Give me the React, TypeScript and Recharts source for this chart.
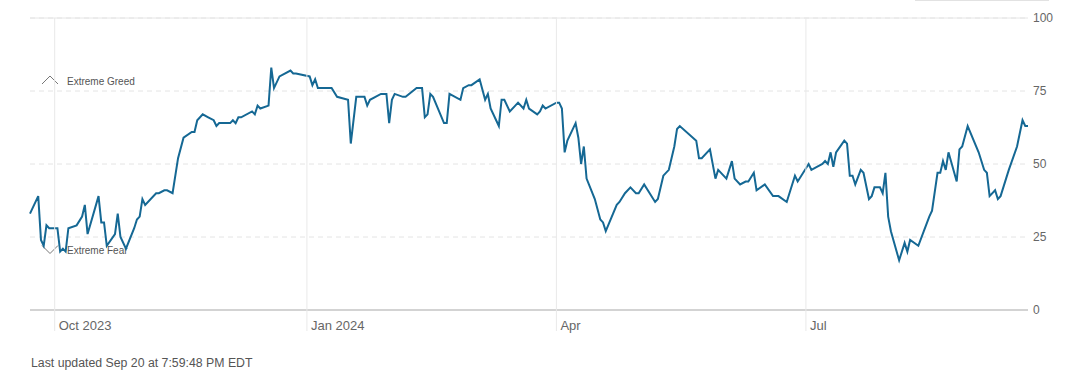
import React from 'react';
import { LineChart, Line, XAxis, YAxis, CartesianGrid, ReferenceLine } from 'recharts';

// Fear & Greed index (one point per visible vertex)
const dates = [
  '2023-09-22', '2023-09-25', '2023-09-26', '2023-09-27', '2023-09-28', '2023-09-29',
  '2023-10-02', '2023-10-03', '2023-10-04', '2023-10-05', '2023-10-06', '2023-10-09', '2023-10-11',
  '2023-10-12', '2023-10-13', '2023-10-17', '2023-10-18', '2023-10-19', '2023-10-20', '2023-10-23',
  '2023-10-24', '2023-10-25', '2023-10-27', '2023-10-30', '2023-10-31',
  '2023-11-01', '2023-11-02', '2023-11-03', '2023-11-07', '2023-11-08', '2023-11-10', '2023-11-11',
  '2023-11-13', '2023-11-15', '2023-11-17', '2023-11-20', '2023-11-21', '2023-11-22', '2023-11-24',
  '2023-11-26', '2023-11-28', '2023-11-29', '2023-11-30',
  '2023-12-02', '2023-12-04', '2023-12-05', '2023-12-06', '2023-12-07', '2023-12-08', '2023-12-12',
  '2023-12-13', '2023-12-14', '2023-12-15', '2023-12-18', '2023-12-19', '2023-12-20', '2023-12-22',
  '2023-12-26', '2023-12-27', '2023-12-28',
  '2024-01-02', '2024-01-03', '2024-01-04', '2024-01-05', '2024-01-08', '2024-01-09', '2024-01-10',
  '2024-01-12', '2024-01-16', '2024-01-17', '2024-01-19', '2024-01-22', '2024-01-23', '2024-01-24',
  '2024-01-26', '2024-01-28', '2024-01-30', '2024-01-31',
  '2024-02-01', '2024-02-02', '2024-02-05', '2024-02-06', '2024-02-10', '2024-02-12', '2024-02-13',
  '2024-02-14', '2024-02-15', '2024-02-16', '2024-02-20', '2024-02-21', '2024-02-22', '2024-02-26',
  '2024-02-27', '2024-02-29',
  '2024-03-01', '2024-03-04', '2024-03-06', '2024-03-07', '2024-03-08', '2024-03-11', '2024-03-12',
  '2024-03-13', '2024-03-15', '2024-03-17', '2024-03-18', '2024-03-20', '2024-03-21', '2024-03-22',
  '2024-03-25', '2024-03-26', '2024-03-27', '2024-03-28',
  '2024-04-01', '2024-04-02', '2024-04-03', '2024-04-04', '2024-04-05', '2024-04-08', '2024-04-09',
  '2024-04-10', '2024-04-11', '2024-04-12', '2024-04-15', '2024-04-17', '2024-04-18', '2024-04-19',
  '2024-04-23', '2024-04-24', '2024-04-26', '2024-04-28', '2024-04-30',
  '2024-05-01', '2024-05-03', '2024-05-07', '2024-05-08', '2024-05-10', '2024-05-12', '2024-05-14',
  '2024-05-15', '2024-05-16', '2024-05-22', '2024-05-23', '2024-05-24', '2024-05-27', '2024-05-29',
  '2024-05-30',
  '2024-06-02', '2024-06-04', '2024-06-05', '2024-06-07', '2024-06-09', '2024-06-10', '2024-06-12',
  '2024-06-13', '2024-06-16', '2024-06-19', '2024-06-21', '2024-06-24', '2024-06-27', '2024-06-28',
  '2024-07-02', '2024-07-03', '2024-07-05', '2024-07-07', '2024-07-08', '2024-07-09', '2024-07-10',
  '2024-07-11', '2024-07-12', '2024-07-15', '2024-07-16', '2024-07-17', '2024-07-18', '2024-07-19',
  '2024-07-21', '2024-07-22', '2024-07-24', '2024-07-25', '2024-07-26', '2024-07-28', '2024-07-29',
  '2024-07-30', '2024-07-31',
  '2024-08-01', '2024-08-04', '2024-08-06', '2024-08-07', '2024-08-08', '2024-08-11', '2024-08-13',
  '2024-08-15', '2024-08-16', '2024-08-18', '2024-08-19', '2024-08-20', '2024-08-21', '2024-08-22',
  '2024-08-25', '2024-08-26', '2024-08-27', '2024-08-29',
  '2024-09-02', '2024-09-04', '2024-09-05', '2024-09-06', '2024-09-08', '2024-09-09', '2024-09-10',
  '2024-09-12', '2024-09-13', '2024-09-16', '2024-09-18', '2024-09-19', '2024-09-20',
];

const scores = [
  33, 39, 24, 22, 29, 28,
  28, 20, 21, 20, 28, 29, 32,
  36, 26, 39, 30, 30, 22, 26,
  33, 25, 21, 28, 31,
  32, 38, 36, 40, 40, 41, 41,
  40, 52, 59, 61, 61, 65, 67,
  66, 65, 63, 64,
  64, 64, 65, 64, 66, 66, 68,
  67, 70, 69, 70, 83, 76, 80,
  82, 81, 81,
  80, 77, 79, 76, 76, 76, 76,
  73, 72, 57, 73, 73, 70, 72,
  73, 74, 74, 64,
  72, 74, 73, 73, 76, 76, 66,
  67, 74, 73, 64, 64, 74, 72,
  76, 77,
  77, 79, 72, 74, 69, 63, 72,
  72, 68, 70, 71, 69, 72, 69,
  67, 68, 70, 69,
  71, 71, 69, 54, 58, 64, 59,
  50, 56, 45, 38, 31, 30, 27,
  36, 37, 40, 42, 40,
  40, 43, 37, 38, 46, 48, 56,
  62, 63, 58, 52, 52, 55, 45,
  48,
  45, 51, 45, 43, 44, 44, 47,
  41, 43, 39, 39, 37, 46, 44,
  50, 48, 49, 50, 51, 50, 54,
  49, 54, 58, 57, 46, 46, 43,
  48, 47, 38, 39, 42, 42, 40,
  47, 32,
  27, 17, 23, 20, 24, 22, 27,
  32, 34, 47, 47, 51, 48, 54,
  44, 55, 56, 63,
  54, 48, 47, 39, 41, 38, 39,
  45, 48, 56, 65, 63, 63,
];

const monthTicks = ['2023-10-01', '2024-01-01', '2024-04-01', '2024-07-01'];
const monthLabels = ['Oct 2023', 'Jan 2024', 'Apr', 'Jul'];
const scoreTicks = [0, 25, 50, 75, 100];

const toTime = (d: string) => Date.parse(d + 'T00:00:00Z');
const data = dates.map((d, i) => ({ t: toTime(d), score: scores[i] }));
const tickTimes = monthTicks.map(toTime);

const FONT = '"Liberation Sans", Arial, sans-serif';
const PLOT_TOP = 18;

const MonthTick = (props: any) => {
  const { x, y, payload } = props;
  const i = tickTimes.indexOf(payload.value);
  return (
    <g>
      <line x1={x} x2={x} y1={PLOT_TOP} y2={331} stroke="#e9e9e9" strokeWidth={1} />
      <text x={x + 4} y={y + 20} fill="#666" fontSize={13} fontFamily={FONT}>
        {monthLabels[i]}
      </text>
    </g>
  );
};

const ScoreTick = (props: any) => {
  const { x, y, payload } = props;
  return (
    <text x={x} y={y + 4} fill="#666" fontSize={12} fontFamily={FONT} textAnchor="start">
      {payload.value}
    </text>
  );
};

const ZoneLabel = ({ viewBox, text, up, dy }: any) => {
  const cx = 50;
  const y = viewBox.y + dy;
  const caret = up
    ? `${cx - 8},${y + 3} ${cx},${y - 5} ${cx + 8},${y + 3}`
    : `${cx - 8},${y - 5} ${cx},${y + 3} ${cx + 8},${y - 5}`;
  return (
    <g>
      <polyline points={caret} fill="none" stroke="#777" strokeWidth={1} />
      <text x={67} y={y + 3.5} fill="#555" fontSize={10} fontFamily={FONT}>
        {text}
      </text>
    </g>
  );
};

export default function App() {
  return (
    <div style={{ position: 'absolute', left: 0, top: 0, width: 1065, height: 380, background: '#fff' }}>
      <div style={{ position: 'absolute', left: 915, top: 0, width: 134, height: 1, background: '#e2e2e2' }} />
      <LineChart width={1065} height={340} data={data} margin={{ top: PLOT_TOP, right: 0, bottom: 0, left: 30 }}>
        <CartesianGrid vertical={false} stroke="#e4e4e4" strokeDasharray="5 4" />
        <ReferenceLine y={100} stroke="#e6e6e6" strokeWidth={1} />
        <XAxis
          dataKey="t"
          type="number"
          scale="time"
          domain={['dataMin', 'dataMax']}
          ticks={tickTimes}
          tick={<MonthTick />}
          tickLine={false}
          tickSize={0}
          tickMargin={0}
          height={30}
          axisLine={{ stroke: '#d3d3d3', strokeWidth: 2 }}
        />
        <YAxis
          orientation="right"
          domain={[0, 100]}
          ticks={scoreTicks}
          tick={<ScoreTick />}
          tickLine={false}
          axisLine={false}
          tickSize={0}
          tickMargin={5}
          width={37}
        />
        <ReferenceLine
          y={75}
          stroke="none"
          label={(p: any) => <ZoneLabel viewBox={p.viewBox} text="Extreme Greed" up dy={-10} />}
        />
        <ReferenceLine
          y={25}
          stroke="none"
          label={(p: any) => <ZoneLabel viewBox={p.viewBox} text="Extreme Fear" up={false} dy={13.5} />}
        />
        <Line
          type="linear"
          dataKey="score"
          stroke="#156894"
          strokeWidth={2}
          dot={false}
          activeDot={false}
          isAnimationActive={false}
        />
      </LineChart>
      <div
        style={{
          position: 'absolute',
          left: 31,
          top: 356,
          fontFamily: FONT,
          fontSize: 12.3,
          color: '#555',
        }}
      >
        Last updated Sep 20 at 7:59:48 PM EDT
      </div>
    </div>
  );
}
